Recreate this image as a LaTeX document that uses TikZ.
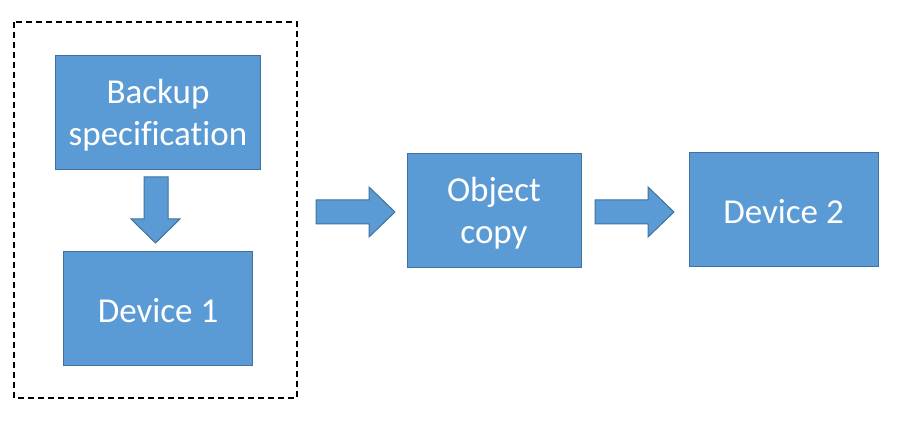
\documentclass[tikz,border=0pt]{standalone}
\usepackage{fontspec}
\setmainfont[Ligatures={NoCommon}]{Carlito}
\definecolor{boxfill}{HTML}{5B9BD5}
\definecolor{boxline}{HTML}{41719C}
\begin{document}
\begin{tikzpicture}[x=1pt,y=-1pt,
  blue box/.style={draw=boxline,fill=boxfill,line width=1pt},
  label text/.style={text=white,font=\fontsize{35}{42}\selectfont,align=center},
  block arrow/.style={draw=boxline,fill=boxfill,line width=1pt,line join=miter}]
\useasboundingbox (0,0) rectangle (921,427);
% group frame
\draw[line width=1.5pt,dash pattern=on 6pt off 4pt] (14,22) rectangle (297,398);
% boxes
\draw[blue box] (55,56) rectangle (260,170);
\node[label text] (spec) at (158,115) {Backup\\specification};
\draw[blue box] (63,252) rectangle (252,366);
\node[label text] (dev1) at (158,311) {Device 1};
\draw[blue box] (407,154) rectangle (581,268);
\node[label text] (obj) at (494,213) {Object\\copy};
\draw[blue box] (689,153) rectangle (878,267);
\node[label text] (dev2) at (783.5,212) {Device 2};
% down arrow
\draw[block arrow] (144,177) -- (168,177) -- (168,219) -- (180,219) -- (155.5,243)
  -- (131,219) -- (144,219) -- cycle;
% right arrow 1
\draw[block arrow] (316,200) -- (369,200) -- (369,187) -- (395,212) -- (369,237)
  -- (369,224) -- (316,224) -- cycle;
% right arrow 2
\draw[block arrow] (595,200) -- (648,200) -- (648,187) -- (674,212) -- (648,237)
  -- (648,224) -- (595,224) -- cycle;
\end{tikzpicture}
\end{document}
